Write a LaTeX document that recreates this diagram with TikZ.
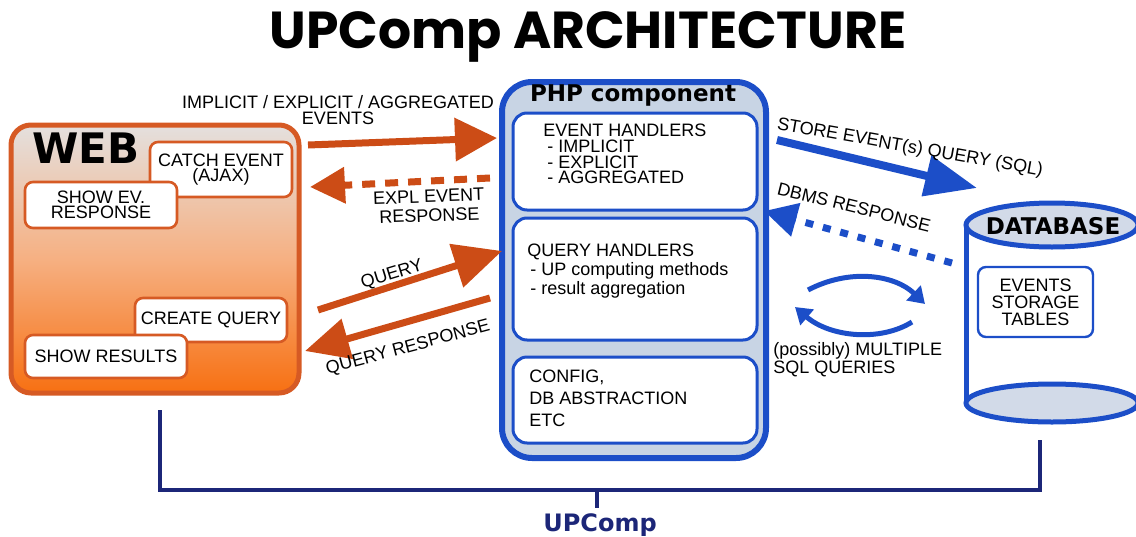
\documentclass[tikz,border=0pt]{standalone}
\usepackage{fontspec}
\setmainfont{Liberation Sans}
\newfontfamily\heavyfont{DejaVu Sans}
\newfontfamily\titlefont{Poppins}
\usetikzlibrary{positioning, arrows.meta, calc}

\definecolor{weborange}{RGB}{214,90,36}
\definecolor{arroworange}{RGB}{204,76,22}
\definecolor{webtop}{RGB}{228,224,222}
\definecolor{webmid}{RGB}{246,176,130}
\definecolor{webbottom}{RGB}{247,112,18}
\definecolor{phpblue}{RGB}{28,78,200}
\definecolor{phpfill}{RGB}{200,212,228}
\definecolor{dbfill}{RGB}{210,218,232}
\definecolor{navy}{RGB}{28,38,120}

\begin{document}
\begin{tikzpicture}[x=0.5pt, y=-0.5pt,
    webbox/.style={rectangle, rounded corners=4pt, draw=weborange, line width=1.3pt, fill=white, align=center, inner sep=0pt, font=\fontsize{9}{7.8}\selectfont},
    phpbox/.style={rectangle, rounded corners=7pt, draw=phpblue, line width=1.5pt, fill=white, minimum width=122pt},
    boxtext/.style={anchor=north west, align=left, inner sep=0pt, font=\fontsize{9}{7.8}\selectfont},
    lbl/.style={align=center, inner sep=0pt, font=\fontsize{9}{7.8}\selectfont},
    orangearrow/.style={draw=arroworange, line width=3.5pt, -{Triangle[length=21pt, width=21pt]}},
    bluearrow/.style={draw=phpblue, line width=4pt, -{Triangle[length=26pt, width=20pt]}},
    looparrow/.style={draw=phpblue, line width=2.5pt, -{Triangle[length=8pt, width=10pt]}},
    bracket/.style={draw=navy, line width=2pt},
]
\useasboundingbox (0,0) rectangle (1136,536);

% title
\node[font=\titlefont\bfseries\fontsize{26}{30}\selectfont] (title) at (588,37) {UPComp ARCHITECTURE};

% WEB side
\node[rectangle, rounded corners=10pt, draw=weborange, line width=2.5pt,
      top color=webtop, bottom color=webbottom, middle color=webmid,
      minimum width=144pt, minimum height=134pt] (web) at (155,259) {};
\node[anchor=west, inner sep=0pt, font=\heavyfont\bfseries\fontsize{21}{21}\selectfont] (webtitle) at (32,148) {WEB};
\node[webbox, minimum width=71pt, minimum height=27.5pt] (catch) at (221,169.5) {CATCH EVENT\\(AJAX)};
\node[webbox, minimum width=76pt, minimum height=23pt] (showev) at (101,205) {SHOW EV.\\RESPONSE};
\node[webbox, minimum width=76pt, minimum height=22pt] (create) at (211,320) {CREATE QUERY};
\node[webbox, minimum width=81pt, minimum height=21.5pt] (results) at (106,356.5) {SHOW RESULTS};

% PHP component
\node[rectangle, rounded corners=15pt, draw=phpblue, line width=3pt, fill=phpfill,
      minimum width=132pt, minimum height=188pt] (php) at (634,270) {};
\node[font=\heavyfont\bfseries\fontsize{11.5}{11.5}\selectfont, inner sep=0pt] (phptitle) at (633,96) {PHP component};
\node[phpbox, minimum height=48.5pt] (evhand) at (635,161.5) {};
\node[phpbox, minimum height=61pt] (qhand) at (635,279) {};
\node[phpbox, minimum height=43pt] (config) at (635,400) {};
\node[boxtext] (evtext) at (543,124) {EVENT HANDLERS\\\hspace*{2pt}- IMPLICIT\\\hspace*{2pt}- EXPLICIT\\\hspace*{2pt}- AGGREGATED};
\node[boxtext] (qtext) at (527,244) {QUERY HANDLERS\\\hspace*{1.5pt}- UP computing methods\\\hspace*{1.5pt}- result aggregation};
\node[boxtext, font=\fontsize{9}{11}\selectfont] (ctext) at (529,370) {CONFIG,\\DB ABSTRACTION\\ETC};

% database
\fill[white] (966,225) rectangle (1138,403);
\draw[phpblue, line width=2.5pt] (966,225) -- (966,403) (1138,225) -- (1138,403);
\draw[phpblue, line width=2.5pt, fill=dbfill] (1052,403) ellipse [x radius=86, y radius=19];
\draw[phpblue, line width=2.5pt, fill=dbfill] (1052,225) ellipse [x radius=86, y radius=22];
\node[font=\heavyfont\bfseries\fontsize{11.5}{11.5}\selectfont, inner sep=0pt] (dbtitle) at (1053,226) {DATABASE};
\node[rectangle, rounded corners=4pt, draw=phpblue, line width=1.2pt, fill=white,
      minimum width=57.5pt, minimum height=35pt, align=center, inner sep=0pt,
      font=\fontsize{9}{8.4}\selectfont] (tables) at (1035.5,302) {EVENTS\\STORAGE\\TABLES};

% connector ends
\coordinate (evout) at (308,145);
\coordinate (evin) at (497,138);
\coordinate (resout) at (490,178);
\coordinate (resin) at (310,187);
\coordinate (qout) at (318,310);
\coordinate (qin) at (502,251);
\coordinate (qrout) at (490,298);
\coordinate (qrin) at (305,351);
\coordinate (sqlout) at (777,140);
\coordinate (sqlin) at (977,188);
\coordinate (dbout) at (952,263);
\coordinate (dbin) at (764,211);
\coordinate (loopa) at (808,290);
\coordinate (loopb) at (925,304);
\coordinate (loopc) at (912,322);
\coordinate (loopd) at (795,307);

% arrows between WEB and PHP
\draw[orangearrow] (evout) -- (evin);
\draw[orangearrow, -{Triangle[length=17.5pt, width=17.5pt]}, dash pattern=on 6.5pt off 5pt] (resout) -- (resin);
\draw[orangearrow, -{Triangle[length=24pt, width=22pt]}] (qout) -- (qin);
\draw[orangearrow, -{Triangle[length=22pt, width=20pt]}] (qrout) -- (qrin);

% arrows between PHP and database
\draw[bluearrow] (sqlout) -- (sqlin);
\draw[bluearrow, line width=3.5pt, dash pattern=on 4pt off 5pt, -{Triangle[length=16.5pt, width=16.5pt]}] (dbout) -- (dbin);
\draw[looparrow] (loopa) .. controls (850,268) and (895,275) .. (loopb);
\draw[looparrow] (loopc) .. controls (880,342) and (830,337) .. (loopd);

% labels
\node[lbl] (evlbl) at (338,110) {IMPLICIT / EXPLICIT / AGGREGATED\\EVENTS};
\node[lbl, rotate=2, font=\fontsize{9}{9.6}\selectfont] (reslbl) at (429,206) {EXPL EVENT\\RESPONSE};
\node[lbl, rotate=17] (qlbl) at (392,275) {QUERY};
\node[lbl, rotate=15] (qrlbl) at (408,348) {QUERY RESPONSE};
\node[lbl, rotate=-10] (sqllbl) at (910,148) {STORE EVENT(s) QUERY (SQL)};
\node[lbl, rotate=-14] (dblbl) at (854,207) {DBMS RESPONSE};
\node[lbl, anchor=north west, align=left] (looplbl) at (773,342) {(possibly) MULTIPLE\\SQL QUERIES};

% UPComp bracket
\coordinate (brl) at (160,410);
\coordinate (brr) at (1040,440);
\coordinate (brc) at (597,490);
\node[font=\heavyfont\bfseries\fontsize{12}{12}\selectfont, text=navy, inner sep=0pt] (upcomp) at (600,525) {UPComp};
\draw[bracket] (brl) |- (brc) -| (brr);
\draw[bracket] (brc) -- ($(upcomp.north)+(-3,-5)$);
\end{tikzpicture}
\end{document}
